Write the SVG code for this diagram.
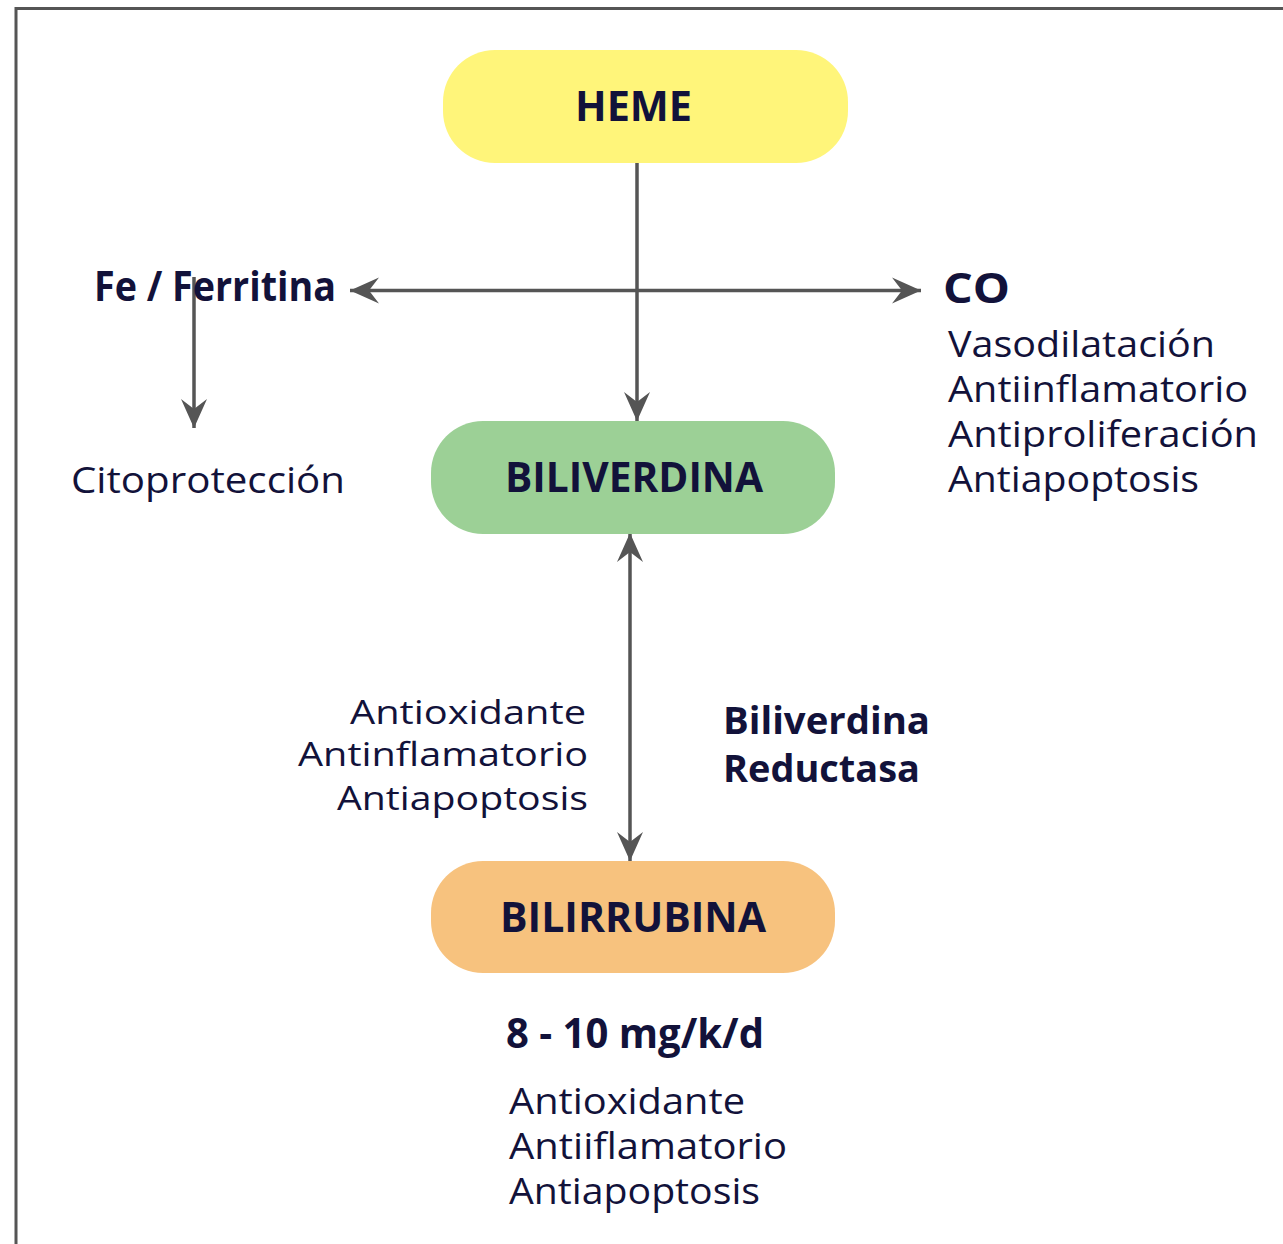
<svg xmlns="http://www.w3.org/2000/svg" width="1283" height="1244" viewBox="0 0 1283 1244">
<style>
.t{font-family:"Open Sans","Liberation Sans",sans-serif;fill:#12123a;font-size:36px}
.s{font-size:33px}
.b{font-family:"Open Sans","Liberation Sans",sans-serif;fill:#12123a;font-size:42px;font-weight:bold}
.bs{font-size:38px}
.c{stroke:#555;stroke-width:3.5;fill:none}
</style>
<defs>
<marker id="ah" markerUnits="userSpaceOnUse" viewBox="-30 -15 32 30" refX="0" refY="0" markerWidth="32" markerHeight="30" orient="auto-start-reverse">
<path d="M0,0 L-29,-13 L-19,0 L-29,13 Z" fill="#555"/>
</marker>
</defs>
<rect width="1283" height="1244" fill="#fff"/>
<path d="M16,1244 V8.5 H1283" stroke="#555" stroke-width="3" fill="none"/>
<g id="connectors">
<line class="c" x1="637" y1="162" x2="637" y2="421" marker-end="url(#ah)"/>
<line class="c" x1="350" y1="290.5" x2="921" y2="290.5" marker-start="url(#ah)" marker-end="url(#ah)"/>
<line class="c" x1="194" y1="277" x2="194" y2="428" marker-end="url(#ah)"/>
<line class="c" x1="630" y1="533" x2="630" y2="861" marker-start="url(#ah)" marker-end="url(#ah)"/>
</g>
<g id="heme">
<rect x="443" y="50" width="405" height="113" rx="52" fill="#FFF57A"/>
<text class="b" x="575" y="121" textLength="117" lengthAdjust="spacingAndGlyphs">HEME</text>
</g>
<g id="biliverdina">
<rect x="431" y="421" width="404" height="113" rx="52" fill="#9CD096"/>
<text class="b" x="505" y="492" textLength="258" lengthAdjust="spacingAndGlyphs">BILIVERDINA</text>
</g>
<g id="bilirrubina">
<rect x="431" y="861" width="404" height="112" rx="52" fill="#F7C27E"/>
<text class="b" x="500" y="932" textLength="266" lengthAdjust="spacingAndGlyphs">BILIRRUBINA</text>
</g>
<g id="fe">
<text class="b" x="94" y="301" textLength="242" lengthAdjust="spacingAndGlyphs">Fe / Ferritina</text>
</g>
<g id="citoproteccion">
<text class="t" x="71" y="493" textLength="274" lengthAdjust="spacingAndGlyphs">Citoprotección</text>
</g>
<g id="co">
<text class="b" x="943" y="303" textLength="67" lengthAdjust="spacingAndGlyphs">CO</text>
<text class="t" x="948" y="357" textLength="267" lengthAdjust="spacingAndGlyphs">Vasodilatación</text>
<text class="t" x="948" y="402" textLength="300" lengthAdjust="spacingAndGlyphs">Antiinflamatorio</text>
<text class="t" x="948" y="447" textLength="310" lengthAdjust="spacingAndGlyphs">Antiproliferación</text>
<text class="t" x="948" y="492" textLength="251" lengthAdjust="spacingAndGlyphs">Antiapoptosis</text>
</g>
<g id="efectos-biliverdina">
<text class="t s" x="350" y="724" textLength="236" lengthAdjust="spacingAndGlyphs">Antioxidante</text>
<text class="t s" x="298" y="766" textLength="290" lengthAdjust="spacingAndGlyphs">Antinflamatorio</text>
<text class="t s" x="337" y="810" textLength="251" lengthAdjust="spacingAndGlyphs">Antiapoptosis</text>
</g>
<g id="reductasa">
<text class="b bs" x="723" y="734" textLength="207" lengthAdjust="spacingAndGlyphs">Biliverdina</text>
<text class="b bs" x="723" y="782" textLength="197" lengthAdjust="spacingAndGlyphs">Reductasa</text>
</g>
<g id="efectos-bilirrubina">
<text class="b" x="506" y="1048" textLength="258" lengthAdjust="spacingAndGlyphs">8 - 10 mg/k/d</text>
<text class="t" x="509" y="1114" textLength="236" lengthAdjust="spacingAndGlyphs">Antioxidante</text>
<text class="t" x="509" y="1159" textLength="278" lengthAdjust="spacingAndGlyphs">Antiiflamatorio</text>
<text class="t" x="509" y="1204" textLength="251" lengthAdjust="spacingAndGlyphs">Antiapoptosis</text>
</g>
</svg>
